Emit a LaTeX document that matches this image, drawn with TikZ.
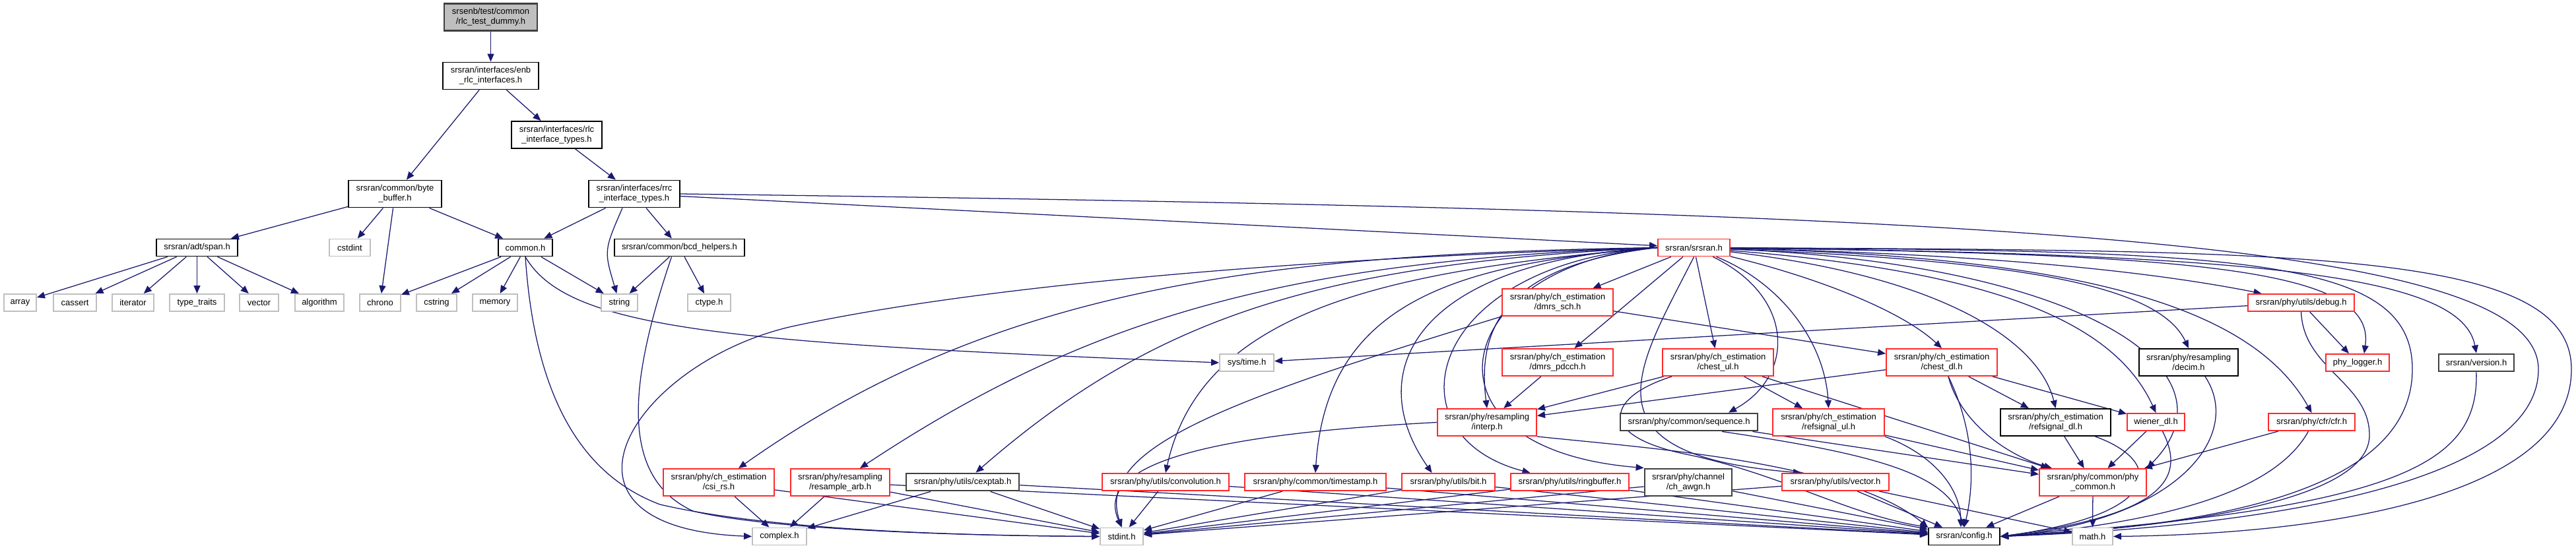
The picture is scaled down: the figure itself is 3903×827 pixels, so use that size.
\documentclass[tikz,border=0pt]{standalone}
\usepackage{fontspec}
\setmainfont{Liberation Sans}
\usepackage{tikz}
\usetikzlibrary{arrows.meta,backgrounds}
\definecolor{dox-edge}{HTML}{191970}
\definecolor{dox-red}{HTML}{FF2A2A}
\definecolor{dox-grey}{HTML}{BFBFBF}
\definecolor{dox-dark}{HTML}{404040}
\newcommand{\hdrfont}{\fontsize{3.7}{4.3}\selectfont}

\begin{document}
\begin{tikzpicture}[x=0.1mm, y=-0.1mm,
  hdr/.style={rectangle, draw=black, fill=white, line width=0.55pt,
              inner sep=0pt, align=center, font=\hdrfont},
  hdrred/.style={hdr, draw=dox-red},
  hdrsys/.style={hdr, draw=dox-grey},
  hdrheavy/.style={hdr, draw=dox-dark, line width=0.8pt},
  hdrroot/.style={hdr, fill=dox-grey, draw=dox-dark, line width=0.7pt},
  oneline/.style={minimum height=2.6mm},
  twoline/.style={minimum height=4.1mm},
  arr/.style={-{Triangle[length=1.2mm, width=1mm]}, draw=dox-edge, line width=0.36pt}]

  \path[use as bounding box] (0,0) rectangle (3903,827);

  \node[hdrroot, twoline, minimum width=14.1mm] (dummy) at (743.5,26) {srsenb/test/common\\/rlc\_test\_dummy.h};
  \node[hdr, twoline, minimum width=14.5mm] (enbrlc) at (743.5,115) {srsran/interfaces/enb\\\_rlc\_interfaces.h};
  \node[hdr, twoline, minimum width=13.7mm] (rlcif) at (843.5,204.5) {srsran/interfaces/rlc\\\_interface\_types.h};
  \node[hdr, twoline, minimum width=14.1mm] (bytebuf) at (598.5,294) {srsran/common/byte\\\_buffer.h};
  \node[hdr, twoline, minimum width=13.8mm] (rrcif) at (961,294) {srsran/interfaces/rrc\\\_interface\_types.h};

  \node[hdr, oneline, minimum width=12.3mm] (span) at (298.5,375.5) {srsran/adt/span.h};
  \node[hdrsys, oneline, minimum width=6.2mm] (cstdint) at (530,375.5) {cstdint};
  \node[hdr, oneline, minimum width=8.2mm] (common) at (796,375.5) {common.h};
  \node[hdr, oneline, minimum width=19.7mm] (bcd) at (1029.5,375.5) {srsran/common/bcd\_helpers.h};
  \node[hdrred, oneline, minimum width=10.9mm] (srsran) at (2566.5,375.5) {srsran/srsran.h};

  \node[hdrsys, oneline, minimum width=4.9mm] (array) at (30.5,459) {array};
  \node[hdrsys, oneline, minimum width=6.5mm] (cassert) at (113.5,459) {cassert};
  \node[hdrsys, oneline, minimum width=6.3mm] (iterator) at (201.5,459) {iterator};
  \node[hdrsys, oneline, minimum width=8.3mm] (typetraits) at (298.5,459) {type\_traits};
  \node[hdrsys, oneline, minimum width=5.9mm] (vector) at (392.5,459) {vector};
  \node[hdrsys, oneline, minimum width=7.4mm] (algorithm) at (484,459) {algorithm};
  \node[hdrsys, oneline, minimum width=6.2mm] (chrono) at (576,459) {chrono};
  \node[hdrsys, oneline, minimum width=6.1mm] (cstring) at (661.5,459) {cstring};
  \node[hdrsys, oneline, minimum width=6.8mm] (memory) at (750,459) {memory};
  \node[hdrsys, oneline, minimum width=5.5mm] (string) at (938.5,459) {string};
  \node[hdrsys, oneline, minimum width=6.5mm] (ctype) at (1074.5,459) {ctype.h};
  \node[hdrred, twoline, minimum width=16.8mm] (dmrssch) at (2360,458.5) {srsran/phy/ch\_estimation\\/dmrs\_sch.h};
  \node[hdrred, oneline, minimum width=16.1mm] (debug) at (3486.5,459) {srsran/phy/utils/debug.h};

  \node[hdrsys, oneline, minimum width=8.2mm] (systime) at (1889,550) {sys/time.h};
  \node[hdrred, twoline, minimum width=16.8mm] (dmrspdcch) at (2360,549.5) {srsran/phy/ch\_estimation\\/dmrs\_pdcch.h};
  \node[hdrred, twoline, minimum width=16.8mm] (chestul) at (2603,549.5) {srsran/phy/ch\_estimation\\/chest\_ul.h};
  \node[hdrred, twoline, minimum width=16.8mm] (chestdl) at (2942,549.5) {srsran/phy/ch\_estimation\\/chest\_dl.h};
  \node[hdr, twoline, minimum width=15mm] (decim) at (3316,549.5) {srsran/phy/resampling\\/decim.h};
  \node[hdrred, oneline, minimum width=9.6mm] (phylogger) at (3572,550) {phy\_logger.h};
  \node[hdrheavy, oneline, minimum width=11.4mm] (version) at (3752,550) {srsran/version.h};

  \node[hdrred, twoline, minimum width=15mm] (interp) at (2253,640.5) {srsran/phy/resampling\\/interp.h};
  \node[hdrheavy, oneline, minimum width=20.8mm] (sequence) at (2559,640) {srsran/phy/common/sequence.h};
  \node[hdrred, twoline, minimum width=16.9mm] (refsigul) at (2770.5,640.5) {srsran/phy/ch\_estimation\\/refsignal\_ul.h};
  \node[hdr, twoline, minimum width=16.7mm] (refsigdl) at (3114.5,640.5) {srsran/phy/ch\_estimation\\/refsignal\_dl.h};
  \node[hdrred, oneline, minimum width=8.7mm] (wiener) at (3266.5,640) {wiener\_dl.h};
  \node[hdrred, oneline, minimum width=13.1mm] (cfr) at (3502.5,640) {srsran/phy/cfr/cfr.h};

  \node[hdrred, twoline, minimum width=16.8mm] (csirs) at (1089,731.5) {srsran/phy/ch\_estimation\\/csi\_rs.h};
  \node[hdrred, twoline, minimum width=15mm] (resample) at (1273,731.5) {srsran/phy/resampling\\/resample\_arb.h};
  \node[hdrheavy, oneline, minimum width=17.1mm] (cexptab) at (1458.5,731) {srsran/phy/utils/cexptab.h};
  \node[hdrred, oneline, minimum width=19.2mm] (convolution) at (1766,731) {srsran/phy/utils/convolution.h};
  \node[hdrred, oneline, minimum width=21.4mm] (timestamp) at (1993,731) {srsran/phy/common/timestamp.h};
  \node[hdrred, oneline, minimum width=14.1mm] (bit) at (2194.5,731) {srsran/phy/utils/bit.h};
  \node[hdrred, oneline, minimum width=17.9mm] (ringbuffer) at (2378.5,731) {srsran/phy/utils/ringbuffer.h};
  \node[hdrheavy, twoline, minimum width=13.2mm] (awgn) at (2558,731.5) {srsran/phy/channel\\/ch\_awgn.h};
  \node[hdrred, oneline, minimum width=16.2mm] (vectorh) at (2781,731) {srsran/phy/utils/vector.h};
  \node[hdrred, twoline, minimum width=16.2mm] (phycommon) at (3171,731.5) {srsran/phy/common/phy\\\_common.h};

  \node[hdrsys, oneline, minimum width=8.2mm] (complex) at (1181,813.5) {complex.h};
  \node[hdrsys, oneline, minimum width=6.5mm] (stdint) at (1699.5,813.5) {stdint.h};
  \node[hdr, oneline, minimum width=10.8mm] (config) at (2976,813.5) {srsran/config.h};
  \node[hdrsys, oneline, minimum width=6.1mm] (math) at (3170.5,813.5) {math.h};

  \begin{scope}[on background layer]
  \fill[white] (0,0) rectangle (3903,827);

  \draw[arr] (dummy) -- (enbrlc);
  \draw[arr] (enbrlc) -- (bytebuf);
  \draw[arr] (enbrlc) -- (rlcif);
  \draw[arr] (rlcif) -- (rrcif);
  \draw[arr] (bytebuf) -- (span);
  \draw[arr] (bytebuf) -- (cstdint);
  \draw[arr] (bytebuf) -- (chrono);
  \draw[arr] (bytebuf) -- (common);
  \draw[arr] (rrcif) -- (common);
  \draw[arr] ([xshift=-1.8mm]rrcif.south) .. controls (915,380) .. (string);
  \draw[arr] (rrcif) -- (bcd);
  \draw[arr] (rrcif) -- (srsran);
  \draw[arr] (rrcif.east) .. controls (3000,320) and (3846,360) .. (3846,560)
             .. controls (3846,740) and (3400,800) .. (config.east);

  \draw[arr] (span) -- (array);
  \draw[arr] (span) -- (cassert);
  \draw[arr] (span) -- (iterator);
  \draw[arr] (span) -- (typetraits);
  \draw[arr] (span) -- (vector);
  \draw[arr] (span) -- (algorithm);
  \draw[arr] (common) -- (chrono);
  \draw[arr] (common) -- (cstring);
  \draw[arr] (common) -- (memory);
  \draw[arr] (common) -- (string);
  \draw[arr] (common.south) .. controls (860,500) and (1100,520) .. (systime.west);
  \draw[arr] (common.south) .. controls (810,600) and (880,720) .. (1000,765)
             .. controls (1150,800) and (1400,812) .. (stdint.west);
  \draw[arr] (bcd) -- (string);
  \draw[arr] (bcd) -- (ctype);
  \draw[arr] ([xshift=-1.2mm]bcd.south) .. controls (960,560) and (930,720) .. (1050,775)
             .. controls (1150,800) and (1400,812) .. (stdint.west);

  \draw[arr] (srsran.west) .. controls (2000,390) and (1500,430) .. (1200,495)
             .. controls (960,550) and (800,800) .. (complex.west);
  \draw[arr] (srsran.west) .. controls (1900,385) and (1500,440) .. ([xshift=3mm]csirs.north);
  \draw[arr] (srsran.west) .. controls (1950,395) and (1650,480) .. ([xshift=3mm]resample.north);
  \draw[arr] (srsran.west) .. controls (2000,400) and (1750,480) .. ([xshift=2mm]cexptab.north);
  \draw[arr] (srsran.west) .. controls (2100,410) and (1820,470) .. (convolution.north);
  \draw[arr] (srsran.west) .. controls (2200,400) and (2010,460) .. (timestamp.north);
  \draw[arr] (srsran.west) .. controls (2150,395) and (2060,560) .. ([xshift=-2.5mm]bit.north);
  \draw[arr] (srsran.west) .. controls (2160,400) and (2100,660) .. ([xshift=-6mm]ringbuffer.north);
  \draw[arr] (srsran.west) .. controls (2200,400) and (2130,680) .. (awgn.north west);
  \draw[arr] (srsran.west) .. controls (2300,400) and (2235,480) .. (interp.north);
  \draw[arr] (srsran) -- (dmrssch);
  \draw[arr] (srsran) -- (dmrspdcch);
  \draw[arr] (srsran) -- (chestul);
  \draw[arr] (srsran.south) .. controls (2480,560) and (2390,690) .. ([xshift=3mm]vectorh.north west);
  \draw[arr] (srsran) .. controls (2720,450) and (2720,570) .. ([xshift=6mm]sequence.north);
  \draw[arr] (srsran) .. controls (2700,430) and (2765,520) .. (refsigul.north);
  \draw[arr] (srsran) .. controls (2750,420) and (2880,470) .. (chestdl.north);
  \draw[arr] (srsran) .. controls (2950,420) and (3090,520) .. (refsigdl.north);
  \draw[arr] (srsran) .. controls (3000,410) and (3200,480) .. (wiener.north);
  \draw[arr] (srsran) .. controls (3150,400) and (3400,560) .. (phycommon.north east);
  \draw[arr] (srsran) .. controls (3050,395) and (3270,430) .. (decim.north);
  \draw[arr] (srsran) .. controls (3000,385) and (3250,410) .. ([xshift=-6mm]debug.north);
  \draw[arr] (srsran) .. controls (3200,390) and (3420,480) .. (cfr.north);
  \draw[arr] (srsran) .. controls (3350,385) and (3600,410) .. ([xshift=1mm]phylogger.north);
  \draw[arr] (srsran) .. controls (3450,385) and (3730,420) .. (version.north);
  \draw[arr] (srsran) .. controls (3400,380) and (3655,390) .. (3655,560)
             .. controls (3655,760) and (3300,800) .. (config.east);
  \draw[arr] (srsran) .. controls (3500,380) and (3896,380) .. (3896,560)
             .. controls (3896,760) and (3500,810) .. (math.east);

  \draw[arr] (dmrssch) -- (chestdl);
  \draw[arr] (dmrssch.south west) .. controls (1850,610) and (1660,680) .. (stdint.north);
  \draw[arr] (dmrspdcch) -- (interp);
  \draw[arr] (chestul) -- (interp);
  \draw[arr] (chestul) -- (refsigul);
  \draw[arr] (chestul) -- (phycommon);
  \draw[arr] ([xshift=1.5mm]chestul.south west) .. controls (2440,600) and (2410,660) .. (2560,690)
             .. controls (2700,720) and (2800,780) .. (config.north west);
  \draw[arr] (chestdl) -- (interp);
  \draw[arr] (chestdl) -- (refsigdl);
  \draw[arr] (chestdl) -- (wiener);
  \draw[arr] ([xshift=1mm]chestdl.south) .. controls (2970,640) and (3040,690) .. ([xshift=2mm]phycommon.north west);
  \draw[arr] ([xshift=1mm]chestdl.south) .. controls (2995,660) and (2990,740) .. (config.north);
  \draw[arr] (refsigul) -- (phycommon);
  \draw[arr] (refsigul.south east) .. controls (2930,690) and (2970,740) .. ([xshift=-0.5mm]config.north);
  \draw[arr] (sequence) -- (phycommon);
  \draw[arr] ([xshift=5mm]sequence.south) .. controls (2850,690) and (2950,720) .. (config.north);
  \draw[arr] (refsigdl) -- (phycommon);
  \draw[arr] ([xshift=6mm]refsigdl.south) .. controls (3280,700) and (3280,780) .. (config.east);
  \draw[arr] (wiener) -- (phycommon);
  \draw[arr] ([xshift=1mm]wiener.south) .. controls (3310,720) and (3290,780) .. (config.east);
  \draw[arr] (cfr) -- (phycommon);
  \draw[arr] ([xshift=-0.5mm]cfr.south) .. controls (3450,740) and (3300,790) .. (config.east);
  \draw[arr] ([xshift=2.5mm]decim.south) .. controls (3400,660) and (3300,790) .. (config.east);
  \draw[arr] (debug) -- (systime);
  \draw[arr] (debug) -- (phylogger);
  \draw[arr] (debug.south) .. controls (3490,560) and (3590,580) .. (3590,660)
             .. controls (3590,760) and (3300,800) .. (config.east);
  \draw[arr] (version.south) .. controls (3755,700) and (3650,770) .. (config.east);
  \draw[arr] (phycommon) -- (config);
  \draw[arr] (phycommon) -- (math);

  \draw[arr] (interp.west) .. controls (1900,655) and (1650,690) .. (stdint.north);
  \draw[arr] (interp.south east) .. controls (2500,680) and (2800,700) .. (config.north west);
  \draw[arr] (vectorh) -- (config);
  \draw[arr] (vectorh) -- (math);
  \draw[arr] (vectorh) -- (stdint);
  \draw[arr] (awgn) -- (stdint);
  \draw[arr] (awgn) -- (config);
  \draw[arr] (ringbuffer) -- (stdint);
  \draw[arr] (ringbuffer) -- (config);
  \draw[arr] (bit) -- (stdint);
  \draw[arr] (bit) -- (config);
  \draw[arr] (timestamp) -- (stdint);
  \draw[arr] (timestamp) -- (config);
  \draw[arr] (convolution) -- (stdint);
  \draw[arr] (convolution) -- (config);
  \draw[arr] (cexptab) -- (complex);
  \draw[arr] (cexptab) -- (stdint);
  \draw[arr] (cexptab) -- (config);
  \draw[arr] (resample) -- (complex);
  \draw[arr] (resample) -- (stdint);
  \draw[arr] (resample) -- (config);
  \draw[arr] (csirs) -- (complex);
  \draw[arr] (csirs) -- (stdint);
  \end{scope}

\end{tikzpicture}
\end{document}
